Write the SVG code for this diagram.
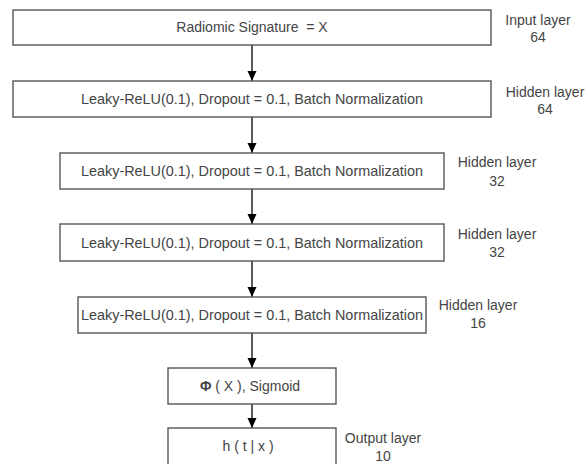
<svg xmlns="http://www.w3.org/2000/svg" width="587" height="464" viewBox="0 0 587 464">
<defs>
<marker id="ah" viewBox="0 0 10 10" refX="10" refY="5" markerWidth="10" markerHeight="10" markerUnits="userSpaceOnUse" orient="auto">
<path d="M0,0.5 L10,5 L0,9.5 Z" fill="#000"/>
</marker>
<style>
.box{fill:#fff;stroke:#555;stroke-width:1.4}
.t{font-family:"Liberation Sans",Arial,sans-serif;font-size:14px;fill:#444;text-anchor:middle}
.b{font-size:14.4px}
.c{stroke:#000;stroke-width:1.3;fill:none;marker-end:url(#ah)}
</style>
</defs>
<rect width="587" height="464" fill="#fff"/>
<g id="connectors">
<line class="c" x1="252" y1="45" x2="252" y2="81"/>
<line class="c" x1="252" y1="117" x2="252" y2="153"/>
<line class="c" x1="252" y1="189" x2="252" y2="224"/>
<line class="c" x1="252" y1="261" x2="252" y2="297"/>
<line class="c" x1="252" y1="333" x2="252" y2="368"/>
<line class="c" x1="252" y1="404" x2="252" y2="428"/>
</g>
<g id="input">
<rect class="box" x="13" y="10" width="478" height="35"/>
<text class="t" x="252" y="32" style="white-space:pre">Radiomic Signature  = X</text>
<text class="t" x="538" y="24.5">Input layer</text>
<text class="t" x="538" y="41.5">64</text>
</g>
<g id="hidden1">
<rect class="box" x="13" y="81" width="478" height="36"/>
<text class="t b" x="252" y="104">Leaky-ReLU(0.1), Dropout = 0.1, Batch Normalization</text>
<text class="t" x="545" y="96.5">Hidden layer</text>
<text class="t" x="545" y="113.5">64</text>
</g>
<g id="hidden2">
<rect class="box" x="60" y="153" width="384" height="36"/>
<text class="t b" x="252" y="176">Leaky-ReLU(0.1), Dropout = 0.1, Batch Normalization</text>
<text class="t" x="497" y="167.3">Hidden layer</text>
<text class="t" x="497" y="185.5">32</text>
</g>
<g id="hidden3">
<rect class="box" x="60" y="224" width="384" height="37"/>
<text class="t b" x="252" y="247.5">Leaky-ReLU(0.1), Dropout = 0.1, Batch Normalization</text>
<text class="t" x="497" y="239">Hidden layer</text>
<text class="t" x="497" y="257">32</text>
</g>
<g id="hidden4">
<rect class="box" x="78" y="297" width="348" height="36"/>
<text class="t b" x="252" y="320">Leaky-ReLU(0.1), Dropout = 0.1, Batch Normalization</text>
<text class="t" x="478" y="310">Hidden layer</text>
<text class="t" x="478" y="327.5">16</text>
</g>
<g id="phi">
<rect class="box" x="168" y="368" width="168" height="36"/>
<text class="t" x="250" y="391"><tspan font-weight="bold">Φ</tspan> ( X ), Sigmoid</text>
</g>
<g id="output">
<rect class="box" x="168" y="428" width="168" height="40"/>
<text class="t" x="248" y="451">h ( t | x )</text>
<text class="t" x="383" y="442.7">Output layer</text>
<text class="t" x="383" y="461">10</text>
</g>
</svg>
